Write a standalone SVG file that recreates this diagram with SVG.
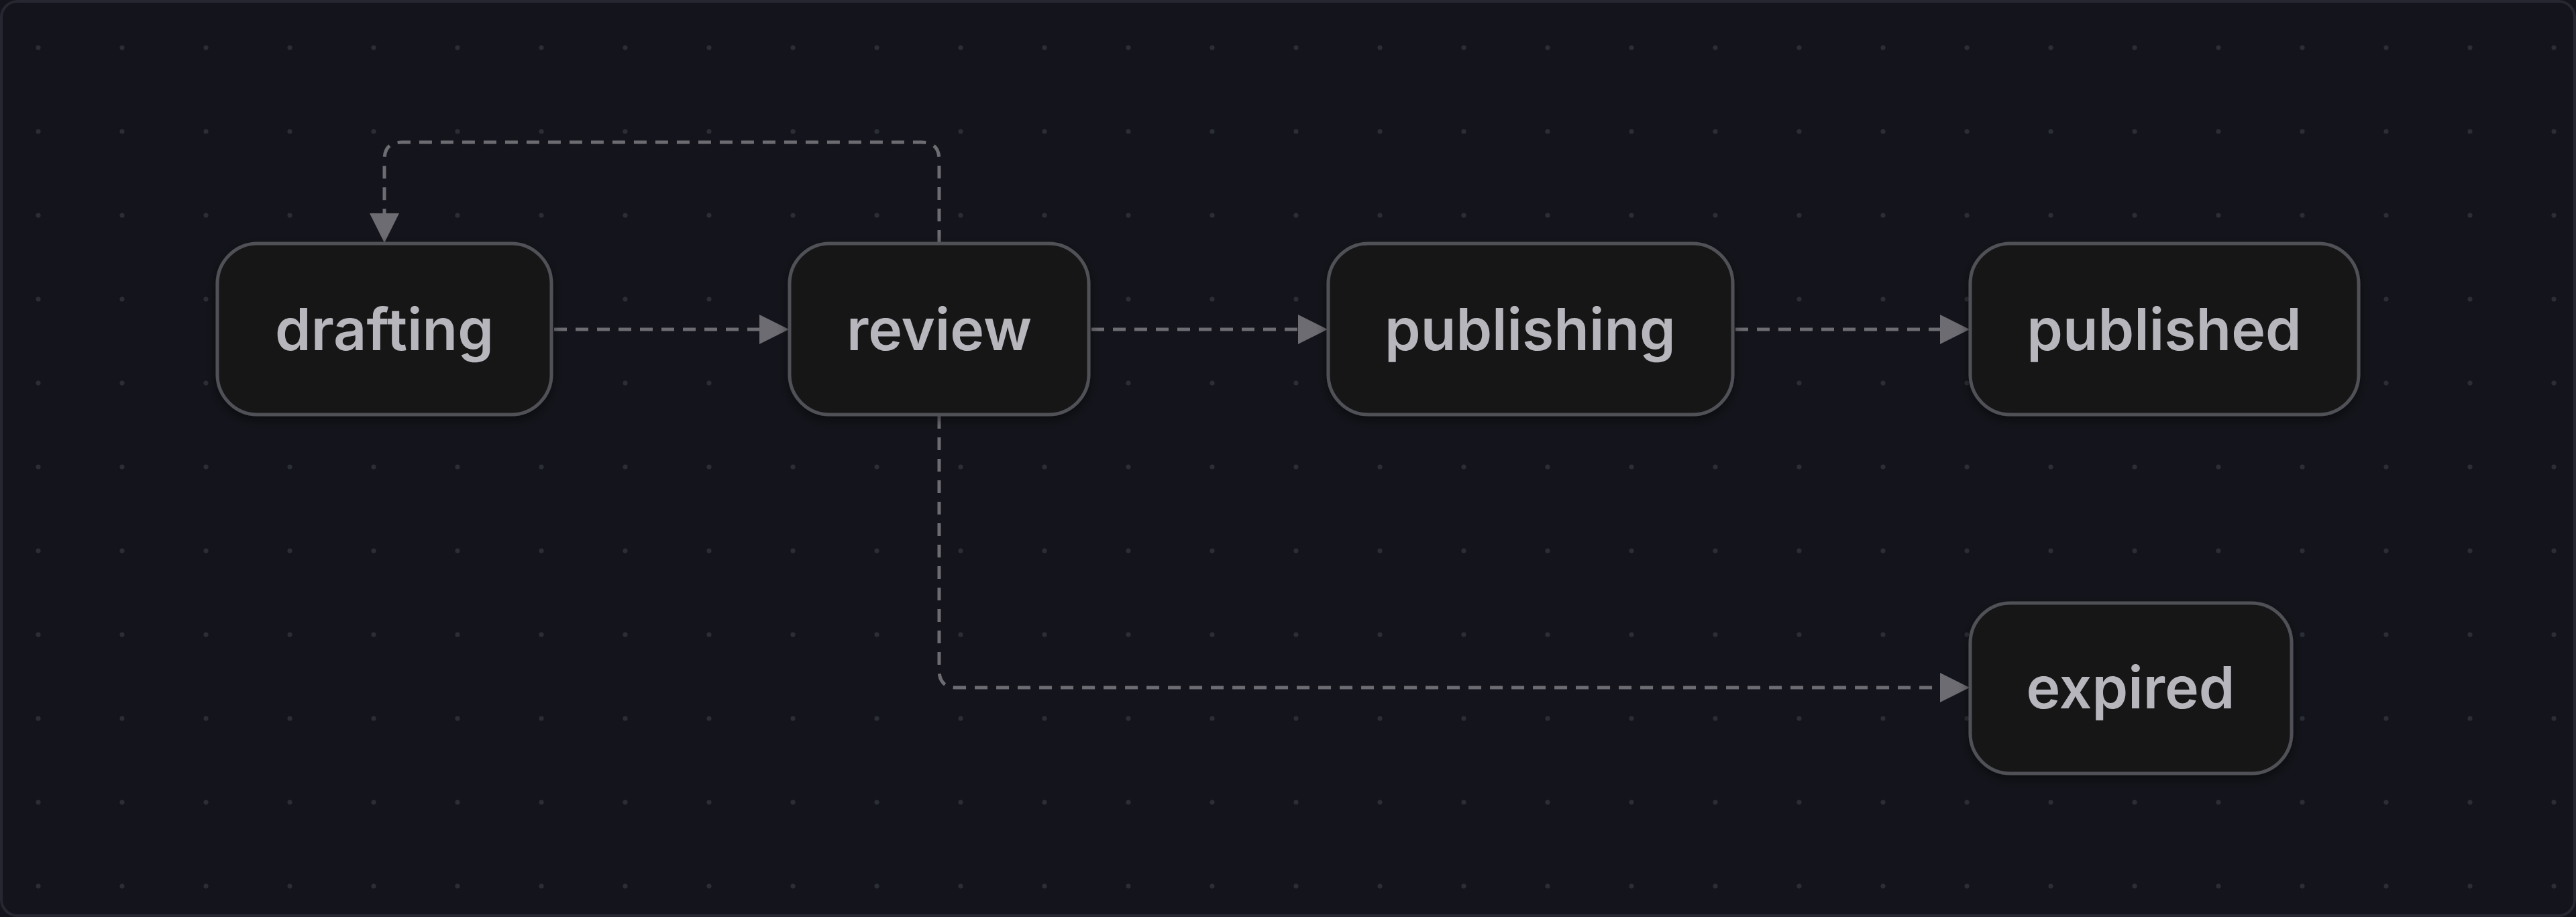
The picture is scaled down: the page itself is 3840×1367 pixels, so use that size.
<svg xmlns="http://www.w3.org/2000/svg" width="3840" height="1367" viewBox="0 0 3840 1367">
<defs>
<pattern id="dots" x="0" y="0" width="125" height="125" patternUnits="userSpaceOnUse" patternTransform="translate(57 71)">
<circle cx="0" cy="0" r="3.5" fill="#2c2e37"/><circle cx="125" cy="0" r="3.5" fill="#2c2e37"/><circle cx="0" cy="125" r="3.5" fill="#2c2e37"/><circle cx="125" cy="125" r="3.5" fill="#2c2e37"/>
</pattern>
<marker id="arr" viewBox="0 0 10 10" refX="10" refY="5" markerWidth="9" markerHeight="9" markerUnits="userSpaceOnUse" orient="auto">
<path d="M0,0 L10,5 L0,10 Z" fill="#6c6c72"/>
</marker>
<filter id="sh" x="-10%" y="-10%" width="120%" height="130%"><feDropShadow dx="0" dy="6" stdDeviation="8" flood-color="#000" flood-opacity="0.5"/></filter>
<style>
.n rect{fill:#121319;stroke:#505156;stroke-width:5;filter:url(#sh)}
.n text{fill:#b6b6bc;font-family:Inter,"Noto Sans",sans-serif;font-weight:600;font-size:86px;text-anchor:middle}
.e path{fill:none;stroke:#6c6c72;stroke-width:5;stroke-dasharray:19 13}
.e polygon{fill:#6c6c72}
</style>
</defs>
<rect x="0" y="0" width="3840" height="1367" fill="#14151c"/>
<rect x="0" y="0" width="3840" height="1367" fill="url(#dots)"/>
<rect x="2" y="2" width="3836" height="1363" rx="24" fill="none" stroke="#262731" stroke-width="4"/>
<g id="connectors" class="e">
<path d="M826,491 H1132"/><polygon points="1176,491 1132,469 1132,513"/>
<path d="M1627,491 H1935"/><polygon points="1979,491 1935,469 1935,513"/>
<path d="M2587,491 H2892"/><polygon points="2936,491 2892,469 2892,513"/>
<path d="M1400,362 V238 Q1400,212 1374,212 H599 Q573,212 573,238 V318"/><polygon points="573,362 551,318 595,318"/>
<path d="M1400,620 V999 Q1400,1025 1426,1025 H2892"/><polygon points="2936,1025 2892,1003 2892,1047"/>
</g>
<g id="drafting" class="n"><rect x="324" y="363" width="498" height="255" rx="60"/><text x="573" y="522">drafting</text></g>
<g id="review" class="n"><rect x="1177" y="363" width="446" height="255" rx="60"/><text x="1400" y="522">review</text></g>
<g id="publishing" class="n"><rect x="1980" y="363" width="603" height="255" rx="60"/><text x="2281" y="522">publishing</text></g>
<g id="published" class="n"><rect x="2937" y="363" width="579" height="255" rx="60"/><text x="3226" y="522">published</text></g>
<g id="expired" class="n"><rect x="2937" y="899" width="479" height="254" rx="60"/><text x="3176" y="1056">expired</text></g>
</svg>
